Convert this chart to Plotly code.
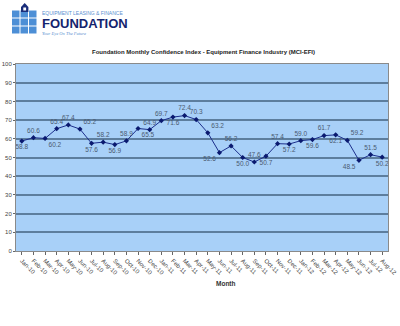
import plotly.graph_objects as go

months = ["Jan-10","Feb-10","Mar-10","Apr-10","May-10","Jun-10","Jul-10","Aug-10","Sep-10","Oct-10","Nov-10","Dec-10",
          "Jan-11","Feb-11","Mar-11","Apr-11","May-11","Jun-11","Jul-11","Aug-11","Sep-11","Oct-11","Nov-11","Dec-11",
          "Jan-12","Feb-12","Mar-12","Apr-12","May-12","Jun-12","Jul-12","Aug-12"]
mci = [58.8,60.6,60.2,65.4,67.4,65.2,57.6,58.2,56.9,58.9,65.5,64.9,
       69.7,71.6,72.4,70.3,63.2,52.6,56.2,50.0,47.6,50.7,57.4,57.2,
       59.0,59.6,61.7,62.1,59.2,48.5,51.5,50.2]
label_pos = ["bottom center","top center","bottom right","top center","top center","top right","bottom center","top center",
             "bottom center","top center","bottom right","top center","top center","bottom center","top center","top center",
             "top right","bottom left","top center","bottom center","top center","bottom center","top center","bottom center",
             "top center","bottom center","top center","bottom center","top right","bottom left","top center","bottom center"]
y_ticks = [0,10,20,30,40,50,60,70,80,90,100]

W, H = 400, 326
L, R, T, B = 16, 388, 64, 251

def px(x):
    return (x - L) / (R - L)

def py(y):
    return (B - y) / (B - T)

fig = go.Figure()
fig.add_trace(go.Scatter(
    x=months, y=mci, mode="lines+markers+text",
    text=[f"{v:.1f}" for v in mci], textposition=label_pos,
    textfont=dict(family="Liberation Sans, Arial", size=6.5, color="#4a5a70"),
    line=dict(color="#1c2f8c", width=1),
    marker=dict(symbol="diamond", size=4, color="#0a1a70"),
    cliponaxis=False, showlegend=False, hoverinfo="skip",
))

shapes = []
cols = [12, 20.5, 29]
rows = [10.5, 18.5, 26.5]
for cx in cols:
    for ry in rows:
        shapes.append(dict(type="rect", xref="paper", yref="paper",
                           x0=px(cx), x1=px(cx + 7.5), y0=py(ry + 7), y1=py(ry),
                           fillcolor="#4d8fd6", line=dict(width=0), layer="above"))
shapes.append(dict(type="path", xref="paper", yref="paper",
                   path=f"M {px(21)},{py(12)} L {px(21)},{py(7)} L {px(24.7)},{py(3)} L {px(28.4)},{py(7)} L {px(28.4)},{py(12)} Z",
                   fillcolor="#1a2d7a", line=dict(width=0), layer="above"))
shapes.append(dict(type="rect", xref="paper", yref="paper",
                   x0=px(23.3), x1=px(26.1), y0=py(10.5), y1=py(7.5),
                   fillcolor="white", line=dict(width=0), layer="above"))

annotations = [
    dict(text="EQUIPMENT LEASING &amp; FINANCE", x=px(40), y=py(12.5), xref="paper", yref="paper",
         xanchor="left", yanchor="middle", showarrow=False,
         font=dict(family="Liberation Sans, Arial", size=5, color="#5b8fd0")),
    dict(text="<b>FOUNDATION</b>", x=px(39.5), y=py(23.5), xref="paper", yref="paper",
         xanchor="left", yanchor="middle", showarrow=False,
         font=dict(family="Liberation Sans Narrow, Liberation Sans, Arial", size=13, color="#14246e")),
    dict(text="<i>Your Eye On The Future</i>", x=px(40), y=py(33), xref="paper", yref="paper",
         xanchor="left", yanchor="middle", showarrow=False,
         font=dict(family="Liberation Serif, Times New Roman", size=4.5, color="#5b8fd0")),
    dict(text="<b>Foundation Monthly Confidence Index - Equipment Finance Industry (MCI-EFI)</b>",
         x=px(203), y=py(52), xref="paper", yref="paper", xanchor="center", yanchor="middle",
         showarrow=False, font=dict(family="Liberation Sans, Arial", size=6, color="#222222")),
    dict(text="<b>Month</b>", x=px(226), y=py(283), xref="paper", yref="paper",
         xanchor="center", yanchor="middle", showarrow=False,
         font=dict(family="Liberation Sans, Arial", size=6.5, color="#333333")),
]

fig.update_layout(
    width=W, height=H,
    margin=dict(l=L, r=W - R, t=T, b=H - B, pad=0),
    paper_bgcolor="white", plot_bgcolor="#a8d0f8",
    shapes=shapes, annotations=annotations,
    xaxis=dict(type="category", tickangle=45, showgrid=False, automargin=False,
               tickfont=dict(family="Liberation Sans, Arial", size=6, color="#444444"),
               ticks="outside", ticklen=3, tickcolor="#666666",
               showline=True, linecolor="#8a8a8a", linewidth=1, mirror=True,
               range=[-0.5, len(months) - 0.5]),
    yaxis=dict(range=[0, 100], tickvals=y_ticks, showgrid=True, gridcolor="#5d7e9e", gridwidth=2,
               automargin=False,
               tickfont=dict(family="Liberation Sans, Arial", size=6, color="#444444"),
               ticks="outside", ticklen=2, tickcolor="#666666",
               showline=True, linecolor="#8a8a8a", linewidth=1, mirror=True, zeroline=False),
)

fig.write_html("out.html")
